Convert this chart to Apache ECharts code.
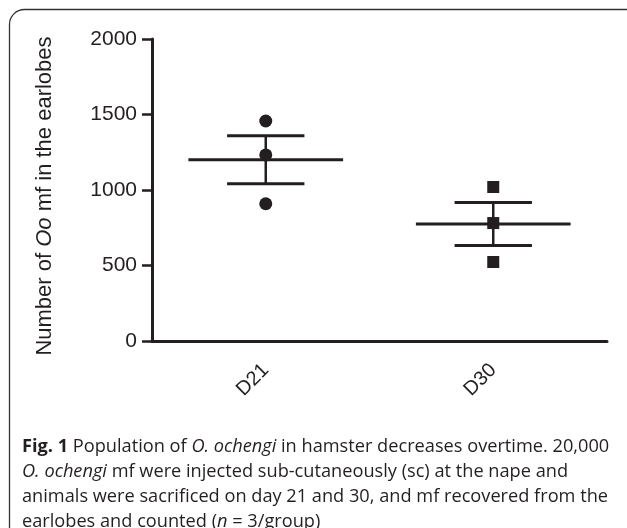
<!DOCTYPE html>
<html>
<head>
    <meta charset="UTF-8">
    <title>O. ochengi mf in hamster earlobes</title>
    <script src="https://cdn.jsdelivr.net/npm/echarts@6.0.0/dist/echarts.min.js"></script>
    <style>
        * { margin: 0; padding: 0; }
        body { background: #fff; }
        #chart { width: 627px; height: 528px; }
    </style>
</head>
<body>
<div id="chart"></div>
<script>
    // data
    var days = ['D21', 'D30'];
    var d21Points = [1457, 1232, 909];
    var d30Points = [1020, 781, 523];
    var means = [1200, 775];
    var sems = [159, 143];
    var yTicks = [0, 500, 1000, 1500, 2000];

    var captionLines = [
        '{b|Fig. 1} Population of {i|O. ochengi} in hamster decreases overtime. 20,000',
        '{i|O. ochengi} mf were injected sub-cutaneously (sc) at the nape and',
        'animals were sacrificed on day 21 and 30, and mf recovered from the',
        'earlobes and counted ({i|n} = 3/group)'
    ];

    var ink = '#231f20';
    var axisFont = 'Liberation Sans, Arial, sans-serif';
    var capFont = 'Open Sans, Noto Sans, sans-serif';
    var capSize = 18.2;

    var chart = echarts.init(document.getElementById('chart'));

    var errData = days.map(function (d, i) {
        return [i, means[i], means[i] - sems[i], means[i] + sems[i]];
    });

    function renderErr(params, api) {
        var x = api.value(0);
        var mid = api.coord([x, api.value(1)]);
        var lo = api.coord([x, api.value(2)]);
        var hi = api.coord([x, api.value(3)]);
        var band = api.size([1, 0])[0];
        var mw = band * 0.34;
        var cw = band * 0.17;
        var st = {stroke: ink, lineWidth: 3};
        return {
            type: 'group',
            children: [
                {type: 'line', shape: {x1: mid[0] - mw, y1: mid[1], x2: mid[0] + mw, y2: mid[1]}, style: st},
                {type: 'line', shape: {x1: hi[0], y1: hi[1], x2: lo[0], y2: lo[1]}, style: {stroke: ink, lineWidth: 2.5}},
                {type: 'line', shape: {x1: hi[0] - cw, y1: hi[1], x2: hi[0] + cw, y2: hi[1]}, style: st},
                {type: 'line', shape: {x1: lo[0] - cw, y1: lo[1], x2: lo[0] + cw, y2: lo[1]}, style: st}
            ]
        };
    }

    var graphics = [{
        type: 'rect',
        shape: {x: 9.5, y: 9.5, width: 640, height: 580, r: 15},
        style: {fill: 'none', stroke: '#333', lineWidth: 1.3},
        silent: true
    }];
    captionLines.forEach(function (t, i) {
        graphics.push({
            type: 'text',
            left: 22,
            top: 438 + i * 25,
            style: {
                text: t,
                fontFamily: capFont,
                fontSize: capSize,
                fill: '#231f20',
                rich: {
                    b: {fontFamily: capFont, fontSize: capSize, fontWeight: 'bold', fill: '#231f20'},
                    i: {fontFamily: capFont, fontSize: capSize, fontStyle: 'italic', fill: '#231f20'}
                }
            }
        });
    });

    var option = {
        animation: false,
        grid: {left: 152, right: 20, top: 39, bottom: 187, containLabel: false},
        xAxis: {
            type: 'category',
            data: days,
            boundaryGap: true,
            axisLine: {lineStyle: {color: ink, width: 3}},
            axisTick: {alignWithLabel: true, length: 10, lineStyle: {color: ink, width: 2.5}},
            axisLabel: {
                rotate: 45, margin: 26, color: ink,
                fontFamily: axisFont, fontSize: 20
            },
            splitLine: {show: false}
        },
        yAxis: {
            type: 'value',
            min: 0, max: 2000, interval: 500,
            name: '{n|Number of }{i|Oo}{n| mf in the earlobes}',
            nameLocation: 'middle',
            nameGap: 96,
            nameTextStyle: {
                padding: [0, 12, 0, 0],
                rich: {
                    n: {fontFamily: axisFont, fontSize: 22, color: ink},
                    i: {fontFamily: axisFont, fontSize: 22, color: ink, fontStyle: 'italic'}
                }
            },
            axisLine: {show: true, lineStyle: {color: ink, width: 3}},
            axisTick: {show: true, length: 10, lineStyle: {color: ink, width: 2.5}},
            axisLabel: {
                margin: 15, color: ink, fontFamily: axisFont, fontSize: 21,
                customValues: yTicks,
                formatter: function (v) { return String(v); }
            },
            splitLine: {show: false}
        },
        series: [
            {
                type: 'scatter',
                symbol: 'circle',
                symbolSize: 13,
                itemStyle: {color: ink, opacity: 1},
                data: d21Points.map(function (v) { return [days[0], v]; }),
                z: 3
            },
            {
                type: 'scatter',
                symbol: 'rect',
                symbolSize: 12,
                itemStyle: {color: ink, opacity: 1},
                data: d30Points.map(function (v) { return [days[1], v]; }),
                z: 3
            },
            {
                type: 'custom',
                renderItem: renderErr,
                data: errData,
                z: 4
            }
        ],
        graphic: graphics
    };

    chart.setOption(option);
</script>
</body>
</html>
